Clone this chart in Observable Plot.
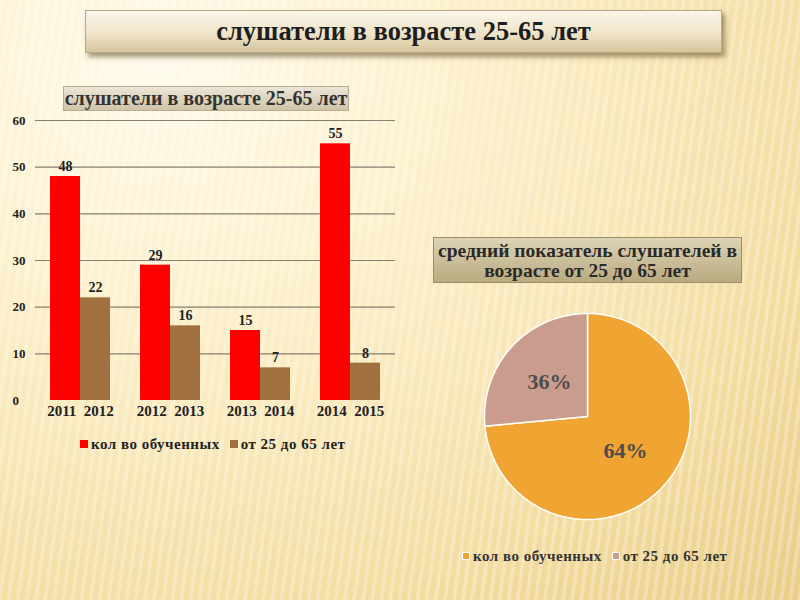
<!DOCTYPE html>
<html><head><meta charset="utf-8">
<script src="https://cdn.jsdelivr.net/npm/d3@7"></script>
<script src="https://cdn.jsdelivr.net/npm/@observablehq/plot@0.6"></script>
<style>
html,body{margin:0;padding:0;}
#page{position:relative;width:800px;height:600px;overflow:hidden;
 font-family:"Liberation Serif","DejaVu Serif","Times New Roman",serif;font-weight:bold;color:#222;
 background:
  repeating-linear-gradient(98deg, rgba(255,255,255,0.25) 0px, rgba(255,255,255,0.25) 4px, rgba(255,255,255,0) 4px, rgba(255,255,255,0) 9px),
  radial-gradient(ellipse at 20% 10%, #fffaea 0%, #fcefc9 35%, #f3dca0 75%, #e9cd88 100%);
}
.abs{position:absolute;}
#title{left:85px;top:10px;width:635px;height:41px;line-height:41px;text-align:center;font-size:26.5px;color:#1e1e1e;
 background:linear-gradient(#fbf6ea,#efe4c8 55%,#d6c49c);border:1px solid #b9aa86;box-shadow:3px 4px 5px rgba(90,70,30,0.55);}
#barTitle{left:63px;top:86px;width:284px;height:23px;line-height:23px;text-align:center;font-size:20px;color:#333;white-space:nowrap;
 background:linear-gradient(#ece6d6,#cfc4a8);border:1px solid #b8ad90;}
#pieTitle{left:433px;top:237px;width:309px;height:46px;text-align:center;font-size:19.5px;line-height:20px;color:#2a2a2a;padding-top:3px;box-sizing:border-box;white-space:nowrap;
 background:linear-gradient(#ddd3b6,#b9aa80);border:1px solid #9c8d66;}
.legend{font-size:15px;letter-spacing:0.5px;white-space:nowrap;}
.legend span.sw{display:inline-block;width:8px;height:8px;margin-right:3px;vertical-align:1px;}
#pieLegend span.sw{width:6px;height:6px;border:1px solid #fff;}
</style></head><body>
<div id="page">
 <div id="title" class="abs">слушатели в возрасте 25-65 лет</div>
 <div id="barTitle" class="abs">слушатели в возрасте 25-65 лет</div>
 <div id="bar" class="abs" style="left:0px;top:110px;"></div>
 <div id="barLegend" class="abs legend" style="left:80px;top:436px;"></div>
 <div id="pieTitle" class="abs">средний показатель слушателей в<br>возрасте от 25 до 65 лет</div>
 <div id="pie" class="abs" style="left:482px;top:311px;"></div>
 <div id="pieLegend" class="abs legend" style="left:462px;top:548px;color:#333;"></div>
</div>
<script>
const categories = ["2011  2012", "2012  2013", "2013  2014", "2014  2015"];
const seriesNames = ["кол во обученных", "от 25 до 65 лет"];
const trained = [48, 29, 15, 55];
const aged = [22, 16, 7, 8];
const yTicks = [0, 10, 20, 30, 40, 50, 60];
const barColors = ["#ff0000", "#a0703f"];
const pieValues = [147, 53];
const pieLabels = ["64%", "36%"];
const pieColors = ["#f0a431", "#c99c8e"];

const serif = "Liberation Serif, DejaVu Serif, Times New Roman, serif";
const trainedData = categories.map((c, i) => ({category: c, value: trained[i]}));
const agedData = categories.map((c, i) => ({category: c, value: aged[i]}));

const bar = Plot.plot({
  width: 400, height: 320,
  marginTop: 10, marginBottom: 30, marginLeft: 35, marginRight: 5,
  style: {background: "transparent", fontFamily: serif, fontWeight: "bold", fontSize: "13px"},
  x: {domain: categories, paddingInner: 1/3, paddingOuter: 1/6, axis: null},
  y: {domain: [0, 60], axis: null},
  marks: [
    Plot.gridY(yTicks.filter(t => t > 0), {stroke: "#857f70", strokeOpacity: 1, strokeWidth: 1.2}),
    Plot.axisY(yTicks, {tickSize: 0, tickPadding: 23, textAnchor: "start", fontSize: 13, fontWeight: "bold", fill: "#222", label: null}),
    Plot.barY(trainedData, {x: "category", y: "value", fill: barColors[0], insetRight: 30}),
    Plot.barY(agedData, {x: "category", y: "value", fill: barColors[1], insetLeft: 30}),
    Plot.text(trainedData, {x: "category", y: "value", text: d => String(d.value), dx: -15, dy: -10, fontSize: 14, fontWeight: "bold", fill: "#222"}),
    Plot.text(agedData, {x: "category", y: "value", text: d => String(d.value), dx: 15, dy: -10, fontSize: 14, fontWeight: "bold", fill: "#222"}),
    Plot.axisX({tickSize: 0, tickPadding: 5, fontSize: 15, fontWeight: "bold", fill: "#222", label: null})
  ]
});
document.getElementById("bar").appendChild(bar);

document.getElementById("barLegend").innerHTML =
  seriesNames.map((n, i) => `<span class="sw" style="background:${barColors[i]}"></span>${n}`).join('<span style="display:inline-block;width:10px"></span>');

// pie
const arcs = d3.pie().sort(null)(pieValues);
const piePts = [];
arcs.forEach((a, i) => {
  piePts.push({slice: seriesNames[i], x: 0, y: 0});
  const n = 120;
  for (let k = 0; k <= n; k++) {
    const t = a.startAngle + (a.endAngle - a.startAngle) * k / n;
    piePts.push({slice: seriesNames[i], x: Math.sin(t), y: Math.cos(t)});
  }
  piePts.push({slice: seriesNames[i], x: 0, y: 0});
});
const arcGen = d3.arc().innerRadius(0).outerRadius(1);
const labelPts = arcs.map((a, i) => {
  const c = arcGen.centroid(a);
  return {x: c[0], y: -c[1], label: pieLabels[i]};
});
const pie = Plot.plot({
  width: 210, height: 210, margin: 2,
  style: {background: "transparent", fontFamily: serif, fontWeight: "bold"},
  x: {domain: [-1, 1], axis: null},
  y: {domain: [-1, 1], axis: null},
  color: {domain: seriesNames, range: pieColors},
  marks: [
    Plot.line(piePts, {x: "x", y: "y", z: "slice", fill: "slice", stroke: "#ffffff", strokeWidth: 1.5, strokeLinejoin: "round"}),
    Plot.text(labelPts, {x: "x", y: "y", text: "label", fontSize: 22, fontWeight: "bold", fill: "#4d4d4d"})
  ]
});
document.getElementById("pie").appendChild(pie);

document.getElementById("pieLegend").innerHTML =
  seriesNames.map((n, i) => `<span class="sw" style="background:${pieColors[i]}"></span>${n}`).join('<span style="display:inline-block;width:10px"></span>');
</script>
</body></html>
